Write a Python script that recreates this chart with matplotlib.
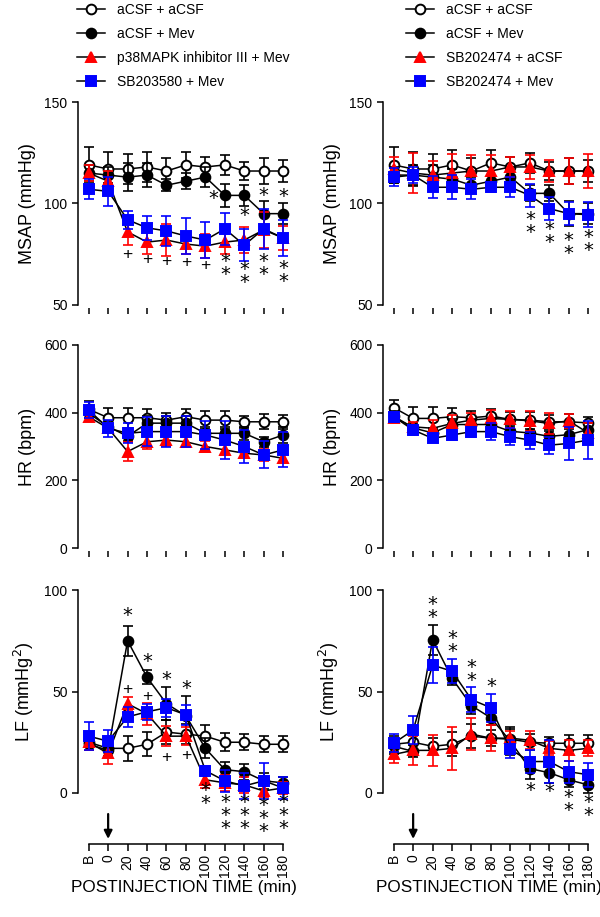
import matplotlib
matplotlib.use('Agg')
import matplotlib.pyplot as plt
import numpy as np

plt.rcParams['font.family'] = ['Liberation Sans', 'DejaVu Sans']

# time points
xlabels = ['B', '0', '20', '40', '60', '80', '100', '120', '140', '160', '180']
xpos = np.arange(len(xlabels))

# ---- MSAP (mmHg), left column
msap_L_open = [119, 117, 117, 118, 116, 119, 118, 119, 116, 116, 116]
msap_L_open_err = [9, 8.5, 7.5, 7.5, 6.5, 6.5, 5, 5, 4.5, 6.5, 5.5]
msap_L_mev = [115, 114, 113, 114, 109, 111, 113, 104, 104, 95, 95]
msap_L_mev_err = [4, 4, 7, 6, 3, 4, 5, 5.5, 5, 6, 5]
msap_L_red = [115, 111, 86, 81, 82, 80, 79, 81, 82, 87, 83]
msap_L_red_err = [4, 5, 6.5, 6, 8, 5, 6, 6, 6.5, 9, 6]
msap_L_blue = [107, 106, 92, 88, 86.5, 84, 82, 87.5, 79.5, 87.5, 83]
msap_L_blue_err = [5, 7, 4.5, 6, 7.5, 9, 9, 8, 8, 10, 9]

# ---- MSAP, right column
msap_R_open = [119, 117, 117, 119, 116, 120, 118, 120, 116, 116, 116]
msap_R_open_err = [9, 8.5, 7.5, 7.5, 6.5, 6.5, 5, 5, 4.5, 6.5, 5.5]
msap_R_mev = [114, 114, 113, 112, 109, 111, 113, 105, 105, 95, 95]
msap_R_mev_err = [4, 5, 6, 5, 4, 3, 5, 4, 4, 6, 5]
msap_R_red = [117, 115, 114, 115, 116, 116, 118, 118, 116, 116, 116]
msap_R_red_err = [6, 10, 7, 9.5, 8, 8, 5, 6, 5.5, 6.5, 8.5]
msap_R_blue = [113, 114, 108, 108, 107, 108, 108, 104, 97.5, 95, 94.5]
msap_R_blue_err = [4.5, 4, 5.5, 6, 5, 2.5, 5, 5.5, 5.5, 5.5, 6]

# ---- HR (bpm)
hr_L_open = [410, 385, 385, 385, 378, 388, 378, 378, 373, 373, 373]
hr_L_open_err = [25, 30, 30, 25, 22, 24, 27, 27, 18, 22, 20]
hr_L_mev = [398, 359, 330, 369, 369, 369, 339, 339, 339, 314, 334]
hr_L_mev_err = [15, 15, 15, 20, 20, 20, 20, 20, 20, 15, 25]
hr_L_red = [388, 354, 285, 314, 319, 314, 300, 290, 280, 275, 265]
hr_L_red_err = [12, 15, 28, 20, 18, 15, 15, 15, 15, 18, 15]
hr_L_blue = [408, 354, 339, 344, 344, 344, 334, 319, 300, 275, 290]
hr_L_blue_err = [25, 25, 30, 42, 45, 45, 40, 55, 50, 40, 52]

hr_R_open = [415, 383, 383, 388, 385, 390, 380, 378, 373, 373, 370]
hr_R_open_err = [22, 35, 35, 27, 20, 20, 22, 25, 20, 22, 18]
hr_R_mev = [390, 355, 340, 365, 365, 365, 345, 340, 330, 335, 350]
hr_R_mev_err = [15, 15, 15, 15, 15, 20, 20, 20, 15, 20, 20]
hr_R_red = [385, 358, 354, 368, 378, 383, 380, 376, 368, 376, 340]
hr_R_red_err = [12, 15, 25, 25, 20, 25, 25, 30, 30, 20, 30]
hr_R_blue = [388, 349, 324, 334, 344, 344, 329, 319, 304, 309, 319]
hr_R_blue_err = [15, 15, 12, 15, 15, 25, 25, 25, 25, 50, 55]

# ---- LF (mmHg^2)
lf_L_open = [25, 22, 22, 24, 30, 29, 28, 25, 25, 24, 24]
lf_L_open_err = [4, 4, 6, 6, 6, 5, 5.5, 4.5, 4, 4, 4]
lf_L_mev = [24, 21, 75, 57, 44, 38, 22, 11.5, 10.5, 6, 5]
lf_L_mev_err = [3, 3, 7.5, 3.5, 8, 10, 5, 4, 4, 4, 3]
lf_L_red = [25, 19.5, 44, 39, 28, 28, 6.5, 5, 4, 1, 2.5]
lf_L_red_err = [4, 5, 3.5, 5.5, 5, 4.5, 4, 4, 4, 3, 3]
lf_L_blue = [28, 25.5, 37.5, 40, 42, 38.5, 11, 6, 3.5, 6, 2.5]
lf_L_blue_err = [7, 5.5, 5, 4, 4.5, 5, 2.5, 5.5, 6.5, 9, 5.5]

lf_R_open = [24, 25, 23, 24, 28, 27, 26.5, 25, 24.5, 24.5, 24.5]
lf_R_open_err = [4, 4, 4, 6, 6, 4, 5, 4, 3, 4, 4]
lf_R_mev = [23, 20.5, 75.5, 56.5, 43, 37, 25.5, 12, 10, 6.5, 4]
lf_R_mev_err = [4, 3, 7.5, 3.5, 4, 3.5, 7, 5, 5, 3.5, 4]
lf_R_red = [19, 21, 21, 22, 29, 27, 27, 26, 22, 21, 22]
lf_R_red_err = [4, 7, 7.5, 10.5, 8, 6.5, 3.5, 4.5, 3.5, 5, 4]
lf_R_blue = [24.5, 31, 63, 60, 46, 42, 21.5, 15.5, 15.5, 10.5, 9]
lf_R_blue_err = [4.5, 7, 9, 6, 6, 7, 4.5, 5.5, 10.5, 5.5, 6]

labels_L = ['aCSF + aCSF', 'aCSF + Mev', 'p38MAPK inhibitor III + Mev', 'SB203580 + Mev']
labels_R = ['aCSF + aCSF', 'aCSF + Mev', 'SB202474 + aCSF', 'SB202474 + Mev']

# significance marks: (x index, y centre, symbol stack)
marks_msap_L = [(2, 75, '+'), (3, 72.5, '+'), (4, 71.3, '+'), (5, 70.8, '+'), (6, 69.7, '+'),
                (6.4, 102.5, '*'), (8, 94.3, '*'), (9, 104.1, '*'), (10, 103.6, '*'),
                (7, 68, '*\n*'), (8, 64.1, '*\n*'), (9, 68.1, '*\n*'), (10, 64.7, '*\n*')]
marks_msap_R = [(7, 88.9, '*\n*'), (8, 84, '*\n*'), (9, 78.7, '*\n*'), (10, 79.9, '*\n*')]
marks_lf_L = [(2, 87.2, '*'), (3, 64.8, '*'), (4, 56, '*'), (5, 51.6, '*'),
              (2, 51.1, '+'), (3, 47.5, '+'), (4, 17.5, '+'), (5, 18.5, '+'),
              (6, -1.8, '*\n*'), (7, -11, '*\n*\n*'), (8, -11, '*\n*\n*'),
              (9, -12.4, '*\n*\n*'), (10, -11, '*\n*\n*')]
marks_lf_R = [(2, 89.7, '*\n*'), (3, 73, '*\n*'), (4, 58.7, '*\n*'), (5, 52.5, '*'),
              (7, 1.3, '*'), (8, 0.8, '*'), (9, -5.3, '*\n*'), (10, -8, '*\n*')]

styles = [dict(marker='o', mfc='white', mec='black', ecol='black'),
          dict(marker='o', mfc='black', mec='black', ecol='black'),
          dict(marker='^', mfc='red', mec='red', ecol='red'),
          dict(marker='s', mfc='blue', mec='blue', ecol='blue')]


def draw_panel(ax, series, errs, labels, ylim, yticks, marks, bottom=False):
    for vals, err, lab, st in zip(series, errs, labels, styles):
        ax.errorbar(xpos, vals, yerr=err, fmt='none', ecolor=st['ecol'],
                    elinewidth=1.2, capsize=3.5, capthick=1.2, clip_on=False)
        ax.plot(xpos, vals, color='black', lw=1.1, marker=st['marker'],
                ms=7 if st['marker'] != 's' else 6.5, mfc=st['mfc'], mec=st['mec'],
                mew=1.4, label=lab, clip_on=False)
    for xi, yv, sym in marks:
        if '*' in sym:
            ax.text(xi, yv, sym, ha='center', va='center', fontsize=14,
                    family='DejaVu Sans', linespacing=0.6, clip_on=False)
        else:
            ax.text(xi, yv, sym, ha='center', va='center', fontsize=12.5, clip_on=False)
    ax.set_xlim(-0.55, 10.3)
    ax.set_ylim(*ylim)
    ax.set_yticks(yticks)
    ax.spines['top'].set_visible(False)
    ax.spines['right'].set_visible(False)
    ax.spines['left'].set_linewidth(1.1)
    ax.tick_params(axis='y', direction='out', length=4, width=1.1, labelsize=10)
    ax.set_xticks(xpos)
    if bottom:
        ax.spines['bottom'].set_position(('outward', 37))
        ax.spines['bottom'].set_bounds(0, 10)
        ax.spines['bottom'].set_linewidth(1.1)
        ax.set_xticklabels(xlabels, rotation=90, fontsize=10)
        ax.tick_params(axis='x', direction='out', length=5, width=1.1, pad=2)
        ax.set_xlabel('POSTINJECTION TIME (min)', fontsize=12.3, labelpad=2)
        ax.annotate('', xy=(1, -24), xytext=(1, -9), annotation_clip=False,
                    arrowprops=dict(arrowstyle='-|>', color='black', lw=1.6,
                                    mutation_scale=12))
    else:
        ax.spines['bottom'].set_visible(False)
        ax.spines['bottom'].set_position(('outward', 2))
        ax.set_xticklabels([])
        ax.tick_params(axis='x', direction='out', length=4, width=1.1)


fig = plt.figure(figsize=(6, 9.17), dpi=100)
W, H = 600, 917
ax_w = 211 / W
ax_h = 203 / H
lefts = [78 / W, 383 / W]
bottoms = [(H - 305) / H, (H - 548) / H, (H - 793) / H]

axs = [[fig.add_axes([l, b, ax_w, ax_h]) for l in lefts] for b in bottoms]

draw_panel(axs[0][0], [msap_L_open, msap_L_mev, msap_L_red, msap_L_blue],
           [msap_L_open_err, msap_L_mev_err, msap_L_red_err, msap_L_blue_err],
           labels_L, (50, 150), [50, 100, 150], marks_msap_L)
draw_panel(axs[0][1], [msap_R_open, msap_R_mev, msap_R_red, msap_R_blue],
           [msap_R_open_err, msap_R_mev_err, msap_R_red_err, msap_R_blue_err],
           labels_R, (50, 150), [50, 100, 150], marks_msap_R)
draw_panel(axs[1][0], [hr_L_open, hr_L_mev, hr_L_red, hr_L_blue],
           [hr_L_open_err, hr_L_mev_err, hr_L_red_err, hr_L_blue_err],
           labels_L, (0, 600), [0, 200, 400, 600], [])
draw_panel(axs[1][1], [hr_R_open, hr_R_mev, hr_R_red, hr_R_blue],
           [hr_R_open_err, hr_R_mev_err, hr_R_red_err, hr_R_blue_err],
           labels_R, (0, 600), [0, 200, 400, 600], [])
draw_panel(axs[2][0], [lf_L_open, lf_L_mev, lf_L_red, lf_L_blue],
           [lf_L_open_err, lf_L_mev_err, lf_L_red_err, lf_L_blue_err],
           labels_L, (0, 100), [0, 50, 100], marks_lf_L, bottom=True)
draw_panel(axs[2][1], [lf_R_open, lf_R_mev, lf_R_red, lf_R_blue],
           [lf_R_open_err, lf_R_mev_err, lf_R_red_err, lf_R_blue_err],
           labels_R, (0, 100), [0, 50, 100], marks_lf_R, bottom=True)

for row, lab in zip(axs, ['MSAP (mmHg)', 'HR (bpm)', 'LF (mmHg$^2$)']):
    for ax in row:
        ax.set_ylabel(lab, fontsize=13, labelpad=6)

for ax, x0 in zip(axs[0], [77 / W, 406 / W]):
    h, l = ax.get_legend_handles_labels()
    fig.legend(h, l, loc='upper left', bbox_to_anchor=(x0, 0.9967), frameon=False,
               fontsize=10, handlelength=2.0, handletextpad=0.9, labelspacing=0.72,
               borderpad=0, borderaxespad=0)

fig.savefig('out.png', dpi=100)
